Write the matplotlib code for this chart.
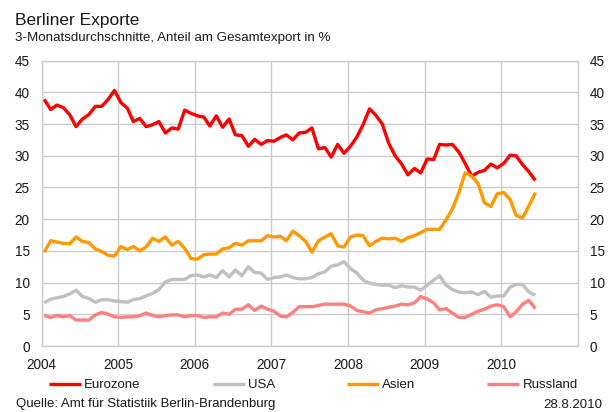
import numpy as np
import pandas as pd
import matplotlib
matplotlib.use("Agg")
import matplotlib.pyplot as plt
import matplotlib.dates as mdates

plt.rcParams['font.family'] = ['Liberation Sans', 'DejaVu Sans']

# ---- data (3-month averages, share of total exports in %) ----
start_month = "2004-01"
n_months = 78

eurozone = [38.9, 37.3, 38.0, 37.6, 36.5, 34.6, 35.8, 36.5, 37.8, 37.8, 38.9, 40.3,
            38.4, 37.5, 35.4, 35.9, 34.6, 34.9, 35.4, 33.6, 34.4, 34.2, 37.2, 36.7,
            36.3, 36.1, 34.7, 36.3, 34.5, 35.8, 33.3, 33.2, 31.5, 32.6, 31.8, 32.4,
            32.3, 32.9, 33.3, 32.5, 33.6, 33.7, 34.4, 31.1, 31.3, 29.8, 31.8, 30.4,
            31.5, 33.0, 34.9, 37.4, 36.4, 35.0, 32.0, 30.0, 28.7, 27.0, 28.0, 27.3,
            29.5, 29.4, 31.8, 31.7, 31.8, 30.6, 28.8, 26.8, 27.4, 27.7, 28.7, 28.1,
            28.8, 30.1, 30.0, 28.6, 27.5, 26.1]

usa = [6.8, 7.4, 7.6, 7.8, 8.2, 8.8, 7.8, 7.5, 6.9, 7.3, 7.3, 7.1,
       7.0, 6.9, 7.3, 7.5, 7.9, 8.3, 8.9, 10.1, 10.5, 10.5, 10.5, 11.1,
       11.2, 10.9, 11.2, 10.8, 11.9, 10.9, 12.0, 11.1, 12.5, 11.6, 11.5, 10.5,
       10.8, 10.9, 11.2, 10.8, 10.6, 10.6, 10.8, 11.4, 11.7, 12.6, 12.8, 13.3,
       12.2, 11.5, 10.4, 9.9, 9.7, 9.6, 9.6, 9.2, 9.5, 9.3, 9.3, 8.8,
       9.6, 10.4, 11.1, 9.6, 8.9, 8.5, 8.4, 8.5, 8.1, 8.6, 7.7, 7.9,
       7.9, 9.3, 9.7, 9.7, 8.5, 8.0]

asien = [14.8, 16.6, 16.4, 16.2, 16.1, 17.2, 16.5, 16.3, 15.3, 14.9, 14.3, 14.2,
         15.7, 15.2, 15.7, 15.0, 15.6, 17.0, 16.5, 17.2, 15.9, 16.5, 15.4, 13.8,
         13.7, 14.4, 14.5, 14.5, 15.3, 15.5, 16.2, 15.9, 16.6, 16.6, 16.6, 17.4,
         17.2, 17.3, 16.6, 18.1, 17.4, 16.5, 14.8, 16.6, 17.2, 17.7, 15.8, 15.6,
         17.2, 17.5, 17.4, 15.8, 16.5, 17.0, 16.9, 17.0, 16.5, 17.1, 17.4, 17.9,
         18.4, 18.4, 18.4, 19.9, 21.6, 24.2, 27.3, 26.8, 25.6, 22.6, 22.0, 24.0,
         24.2, 23.1, 20.6, 20.2, 22.1, 24.2]

russland = [4.8, 4.5, 4.8, 4.6, 4.8, 4.1, 4.1, 4.1, 4.9, 5.3, 5.0, 4.6,
            4.5, 4.6, 4.6, 4.8, 5.2, 4.8, 4.6, 4.8, 4.9, 4.9, 4.6, 4.8,
            4.8, 4.5, 4.6, 4.6, 5.2, 5.0, 5.8, 5.8, 6.5, 5.6, 6.3, 5.8,
            5.5, 4.7, 4.6, 5.3, 6.2, 6.2, 6.2, 6.4, 6.6, 6.6, 6.6, 6.6,
            6.3, 5.6, 5.4, 5.2, 5.7, 5.9, 6.1, 6.3, 6.6, 6.5, 6.8, 7.8,
            7.4, 6.8, 5.7, 5.9, 5.2, 4.5, 4.5, 5.0, 5.5, 5.8, 6.3, 6.5,
            6.2, 4.6, 5.4, 6.6, 7.2, 5.9]

series_names = ["Eurozone", "USA", "Asien", "Russland"]
series_colors = ["#FF0000", "#C0C0C0", "#FF9900", "#FF8080"]
year_ticks = [2004, 2005, 2006, 2007, 2008, 2009, 2010]
y_ticks = [0, 5, 10, 15, 20, 25, 30, 35, 40, 45]

title = "Berliner Exporte"
subtitle = "3-Monatsdurchschnitte, Anteil am Gesamtexport in %"
source = "Quelle: Amt für Statistiik Berlin-Brandenburg"
date_text = "28.8.2010"

# ---- figure ----
W, H = 613, 412
fig = plt.figure(figsize=(W / 100, H / 100), dpi=100)
fig.patch.set_facecolor("white")

left, right, top, bottom = 41.7, 577.7, 60.7, 346.0
ax = fig.add_axes([left / W, 1 - bottom / H, (right - left) / W, (bottom - top) / H])

dates = pd.date_range(start_month, periods=n_months, freq="MS") + pd.Timedelta(days=12)
grid_c = "#CCCCCC"
text_c = "#1A1A1A"

handles = []
for vals, name, col in zip([eurozone, usa, asien, russland], series_names, series_colors):
    h, = ax.plot(dates, vals, color=col, lw=2.4, solid_joinstyle="round",
                 solid_capstyle="butt", label=name, zorder=3)
    handles.append(h)

ax.set_xlim(pd.Timestamp("2004-01-01"), pd.Timestamp("2011-01-01"))
ax.set_ylim(0, 45)
ax.set_xticks([pd.Timestamp(f"{y}-01-01") for y in year_ticks])
ax.xaxis.set_major_formatter(mdates.DateFormatter("%Y"))
ax.set_yticks(y_ticks)
ax.grid(True, color=grid_c, lw=1.0, zorder=0)
for s in ax.spines.values():
    s.set_color(grid_c)
    s.set_linewidth(1.0)
ax.tick_params(axis="both", length=0, labelsize=9.8, colors=text_c)
ax.tick_params(axis="x", pad=8.5)
ax.tick_params(axis="y", pad=8.6, labelleft=True, labelright=True)

fig.text(15 / W, 1 - 24.5 / H, title, fontsize=12.5, color=text_c, va="baseline", ha="left")
fig.text(15 / W, 1 - 41 / H, subtitle, fontsize=9.6, color=text_c, va="baseline", ha="left")
fig.text(16 / W, 1 - 404 / H, source, fontsize=9.5, color=text_c, va="center", ha="left")
fig.text(602 / W, 1 - 405 / H, date_text, fontsize=9.5, color=text_c, va="center", ha="right")

fig.legend(handles, series_names, loc="center left", bbox_to_anchor=(49 / W, 1 - 385 / H),
           ncol=4, frameon=False, fontsize=9.5, handlelength=2.42, handletextpad=0.25,
           columnspacing=5.45, borderpad=0, borderaxespad=0, labelcolor=text_c)

fig.savefig("out.png", dpi=100, facecolor="white")
